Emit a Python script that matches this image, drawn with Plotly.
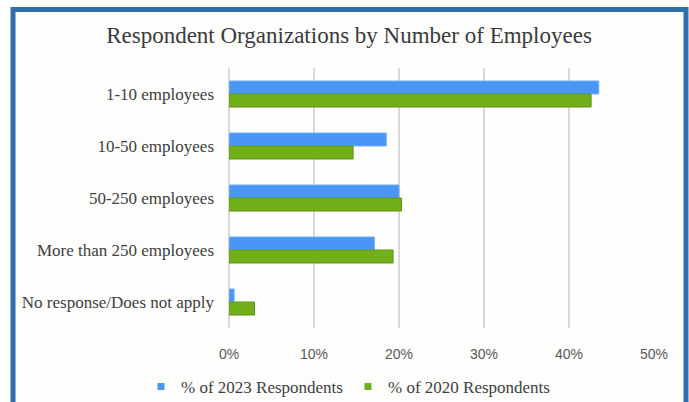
import plotly.graph_objects as go

# Survey data: share of respondents by organization size
categories = [
    "1-10 employees",
    "10-50 employees",
    "50-250 employees",
    "More than 250 employees",
    "No response/Does not apply",
]
pct_2023 = [43.5, 18.5, 20.0, 17.1, 0.6]
pct_2020 = [42.6, 14.6, 20.3, 19.3, 3.0]
x_ticks = [0, 10, 20, 30, 40, 50]
x_tick_labels = [f"{v}%" for v in x_ticks]

series = [
    ("% of 2023 Respondents", pct_2023, "#4A96F6", "#6FAEFA"),
    ("% of 2020 Respondents", pct_2020, "#71B01B", "#5C9614"),
]

W, H = 689, 402
ML, MR, MT, MB = 229, 35, 68, 74
PW, PH = W - ML - MR, H - MT - MB


def px_x(px):
    return (px - ML) / PW


def px_y(py):
    return (H - MB - py) / PH


fig = go.Figure()
for name, vals, fill, edge in series:
    fig.add_trace(go.Bar(
        y=categories, x=vals, orientation="h", name=name,
        marker=dict(color=fill, line=dict(color=edge, width=1)),
        showlegend=False,
    ))
# Small square legend keys
for name, vals, fill, edge in series:
    fig.add_trace(go.Scatter(
        x=[None], y=[None], mode="markers", name=name,
        marker=dict(symbol="square", size=7, color=fill),
        showlegend=True,
    ))

# Blue frame around the whole chart
fig.add_shape(
    type="rect", xref="paper", yref="paper", layer="below",
    x0=px_x(13), x1=px_x(686), y0=px_y(480), y1=px_y(9.5),
    line=dict(color="#2F6FAC", width=5), fillcolor="#FDFDFB",
)

fig.update_layout(
    width=W, height=H,
    margin=dict(l=ML, r=MR, t=MT, b=MB, autoexpand=False),
    paper_bgcolor="white",
    plot_bgcolor="rgba(0,0,0,0)",
    barmode="group",
    bargap=0.5,
    bargroupgap=0,
    title=dict(
        text="Respondent Organizations by Number of Employees",
        x=349 / W, xref="container", xanchor="center",
        y=1 - 35 / H, yref="container", yanchor="middle",
        font=dict(family="Liberation Serif", size=23, color="#3A3A3A"),
    ),
    xaxis=dict(
        range=[0, 50], tickmode="array",
        tickvals=x_ticks, ticktext=x_tick_labels,
        showgrid=True, gridcolor="#D9D9D9", gridwidth=1.5,
        zeroline=True, zerolinecolor="#D9D9D9", zerolinewidth=1.5,
        showline=False, ticks="", ticklabelstandoff=16,
        tickfont=dict(family="Liberation Sans", size=14, color="#595959"),
        automargin=False, fixedrange=True,
    ),
    yaxis=dict(
        autorange="reversed", showgrid=False, zeroline=False,
        ticks="", ticklabelstandoff=14,
        tickfont=dict(family="Liberation Serif", size=17, color="#404040"),
        automargin=False,
    ),
    legend=dict(
        orientation="h", x=px_x(348), xanchor="center",
        y=px_y(387), yanchor="middle",
        font=dict(family="Liberation Serif", size=17, color="#404040"),
        bgcolor="rgba(0,0,0,0)", itemwidth=30,
    ),
    showlegend=True,
)

fig.write_html("out.html")
